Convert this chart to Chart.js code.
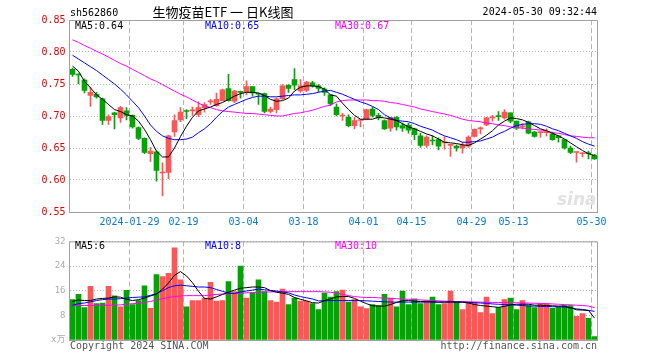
<!DOCTYPE html>
<html>
<head>
<meta charset="utf-8">
<script src="https://cdn.jsdelivr.net/npm/chart.js@4.4.1/dist/chart.umd.min.js"></script>
<style>
  html, body { margin: 0; padding: 0; background: #fff; }
  #wrap { position: relative; width: 660px; height: 360px; }
  #wrap canvas { position: absolute; left: 0; }
  #kline { top: 0; }
  #vol { top: 232px; }
</style>
</head>
<body>
<div id="wrap">
  <canvas id="kline" width="660" height="232"></canvas>
  <canvas id="vol" width="660" height="128"></canvas>
</div>
<script>
// trading days shown on the chart (2024)
const dates = [
  '01-15','01-16','01-17','01-18','01-19','01-22','01-23','01-24','01-25','01-26',
  '01-29','01-30','01-31','02-01','02-02','02-05','02-06','02-07','02-08',
  '02-19','02-20','02-21','02-22','02-23','02-26','02-27','02-28','02-29','03-01',
  '03-04','03-05','03-06','03-07','03-08','03-11','03-12','03-13','03-14','03-15',
  '03-18','03-19','03-20','03-21','03-22','03-25','03-26','03-27','03-28','03-29',
  '04-01','04-02','04-03','04-08','04-09','04-10','04-11','04-12',
  '04-15','04-16','04-17','04-18','04-19','04-22','04-23','04-24','04-25','04-26',
  '04-29','04-30','05-06','05-07','05-08','05-09','05-10',
  '05-13','05-14','05-15','05-16','05-17','05-20','05-21','05-22','05-23','05-24',
  '05-27','05-28','05-29','05-30'
];
const tickDates  = ['01-29','02-19','03-04','03-18','04-01','04-15','04-29','05-13','05-30'];
const tickLabels = ['2024-01-29','02-19','03-04','03-18','04-01','04-15','04-29','05-13','05-30'];

const open = [
  0.773,0.765,0.756,0.732,0.734,0.727,0.693,0.705,0.697,0.708,
  0.701,0.682,0.665,0.641,0.644,0.611,0.612,0.675,0.694,
  0.708,0.708,0.702,0.713,0.722,0.716,0.724,0.743,0.723,0.738,
  0.738,0.746,0.735,0.735,0.707,0.710,0.727,0.748,0.757,0.739,
  0.740,0.752,0.747,0.742,0.733,0.714,0.700,0.698,0.685,0.693,
  0.695,0.711,0.701,0.693,0.681,0.698,0.685,0.686,
  0.680,0.669,0.654,0.662,0.663,0.658,0.654,0.653,0.650,0.653,
  0.668,0.680,0.686,0.697,0.700,0.697,0.705,
  0.692,0.683,0.691,0.675,0.674,0.674,0.672,0.669,0.663,0.650,0.643,0.641,0.642,0.639
];
const close = [
  0.765,0.764,0.740,0.737,0.730,0.693,0.699,0.702,0.713,0.701,
  0.683,0.665,0.643,0.645,0.615,0.612,0.669,0.693,0.706,
  0.707,0.709,0.713,0.718,0.723,0.726,0.741,0.724,0.739,0.737,
  0.746,0.736,0.734,0.707,0.711,0.727,0.747,0.743,0.748,0.747,
  0.753,0.747,0.743,0.737,0.719,0.702,0.701,0.685,0.693,0.693,
  0.710,0.701,0.697,0.680,0.698,0.683,0.681,0.678,
  0.671,0.654,0.667,0.661,0.653,0.658,0.654,0.650,0.654,0.667,
  0.679,0.680,0.697,0.697,0.699,0.706,0.692,
  0.681,0.684,0.673,0.668,0.675,0.675,0.663,0.666,0.650,0.643,0.644,0.642,0.641,0.633
];
const high = [
  0.775,0.766,0.758,0.745,0.737,0.728,0.702,0.706,0.715,0.713,
  0.702,0.683,0.666,0.651,0.645,0.627,0.670,0.702,0.713,
  0.710,0.714,0.722,0.721,0.726,0.736,0.742,0.765,0.740,0.739,
  0.755,0.746,0.736,0.736,0.714,0.728,0.749,0.749,0.774,0.757,
  0.754,0.754,0.749,0.744,0.734,0.719,0.704,0.702,0.698,0.694,
  0.711,0.714,0.704,0.694,0.698,0.699,0.689,0.689,
  0.681,0.673,0.669,0.669,0.666,0.668,0.654,0.655,0.659,0.669,
  0.680,0.683,0.698,0.701,0.707,0.710,0.705,
  0.692,0.688,0.692,0.676,0.675,0.680,0.675,0.669,0.663,0.653,0.644,0.643,0.645,0.640
];
const low = [
  0.762,0.750,0.736,0.715,0.728,0.687,0.687,0.680,0.690,0.694,
  0.681,0.663,0.641,0.629,0.598,0.575,0.602,0.668,0.691,
  0.696,0.701,0.699,0.706,0.718,0.715,0.723,0.723,0.721,0.728,
  0.733,0.731,0.718,0.705,0.705,0.705,0.726,0.737,0.741,0.737,
  0.738,0.745,0.738,0.732,0.716,0.700,0.693,0.683,0.680,0.683,
  0.694,0.698,0.694,0.679,0.676,0.678,0.676,0.673,
  0.663,0.651,0.651,0.655,0.647,0.648,0.637,0.645,0.642,0.651,
  0.667,0.672,0.685,0.692,0.693,0.695,0.689,
  0.679,0.680,0.672,0.667,0.667,0.669,0.662,0.659,0.648,0.641,0.628,0.636,0.633,0.632
];
const ma5 = [
  0.778,0.770,0.754,0.744,0.733,0.726,0.718,0.710,0.707,0.702,
  0.700,0.692,0.679,0.663,0.645,0.636,0.636,0.650,0.668,
  0.684,0.698,0.708,0.711,0.714,0.718,0.721,0.726,0.731,0.735,
  0.737,0.737,0.736,0.732,0.726,0.723,0.724,0.728,0.739,0.745,
  0.747,0.747,0.746,0.742,0.733,0.731,0.720,0.710,0.701,0.695,
  0.695,0.695,0.698,0.697,0.695,0.693,0.688,0.683,
  0.680,0.676,0.672,0.669,0.664,0.659,0.658,0.657,0.655,0.654,
  0.658,0.664,0.670,0.677,0.686,0.692,0.697,
  0.696,0.694,0.690,0.685,0.680,0.677,0.673,0.669,0.664,0.658,0.652,0.646,0.641,0.638
];
const ma10 = [
  0.795,0.789,0.783,0.777,0.771,0.764,0.757,0.750,0.742,0.733,
  0.723,0.713,0.700,0.686,0.676,0.669,0.665,0.663,0.663,
  0.664,0.667,0.674,0.680,0.688,0.698,0.707,0.714,0.718,0.722,
  0.726,0.729,0.731,0.731,0.730,0.730,0.731,0.732,0.733,0.733,
  0.734,0.735,0.737,0.739,0.740,0.737,0.734,0.730,0.726,0.722,
  0.719,0.715,0.710,0.702,0.697,0.693,0.692,0.691,
  0.688,0.684,0.681,0.678,0.673,0.669,0.666,0.663,0.659,0.659,
  0.660,0.661,0.664,0.667,0.672,0.676,0.681,
  0.685,0.687,0.688,0.688,0.687,0.684,0.680,0.677,0.673,0.669,0.665,0.660,0.656,0.653
];
const ma30 = [
  0.819,0.815,0.810,0.806,0.801,0.797,0.792,0.787,0.782,0.778,
  0.773,0.768,0.763,0.758,0.754,0.749,0.744,0.739,0.734,
  0.730,0.725,0.720,0.716,0.713,0.710,0.708,0.707,0.706,0.705,
  0.704,0.704,0.703,0.702,0.701,0.700,0.700,0.702,0.704,0.705,
  0.707,0.709,0.712,0.715,0.717,0.722,0.724,0.725,0.725,0.725,
  0.725,0.724,0.724,0.723,0.721,0.720,0.718,0.716,
  0.714,0.711,0.709,0.707,0.705,0.703,0.701,0.698,0.695,0.693,
  0.692,0.691,0.689,0.688,0.686,0.685,0.683,
  0.682,0.681,0.680,0.679,0.678,0.677,0.674,0.673,0.671,0.669,0.668,0.667,0.666,0.666
];

// volume (unit shown on axis), and its moving averages
const volume = [
  13.1,14.8,10.5,17.4,11.8,12.0,17.4,14.3,10.8,16.1,
  11.5,12.8,17.6,10.3,21.2,20.6,21.6,29.9,19.5,
  10.8,12.8,12.8,13.6,18.7,12.6,12.8,19.0,15.7,24.0,
  13.6,15.2,19.5,15.7,12.8,12.3,16.5,11.5,13.6,12.6,
  12.6,11.8,9.9,15.2,13.9,15.7,16.2,12.3,13.1,10.8,
  10.2,11.5,11.2,14.8,13.6,10.8,15.9,11.5,
  13.4,11.8,12.8,13.9,11.5,11.8,15.9,12.3,9.9,12.3,
  12.3,8.9,13.9,8.6,10.5,13.1,13.6,
  9.9,12.8,11.2,10.5,11.8,11.8,10.3,10.7,11.2,11.2,7.7,8.6,7.0,1.1
];
const volMa5 = [
  12.5,13.0,12.8,12.8,13.3,13.5,13.6,14.0,13.9,13.2,
  12.8,13.1,13.6,14.3,14.9,16.5,18.5,21.0,22.2,
  20.8,18.6,15.8,13.5,13.3,14.0,14.8,15.5,16.2,16.8,
  17.0,17.2,17.2,17.0,16.0,15.5,15.2,14.8,13.8,13.2,
  12.7,12.1,12.0,12.8,13.3,14.0,14.1,14.1,13.5,12.6,
  11.8,11.1,11.0,11.0,11.5,12.2,12.7,12.8,
  12.6,12.5,12.5,12.4,12.3,12.3,12.4,12.3,12.3,12.0,
  11.5,11.2,11.0,10.8,10.6,10.9,11.4,
  11.6,11.6,11.6,11.3,11.3,11.2,11.1,11.0,11.0,10.5,9.8,9.7,9.6,7.1
];
const volMa10 = [
  11.3,11.8,12.0,12.4,12.8,13.1,13.3,13.3,13.4,13.6,
  13.8,13.9,14.0,14.5,15.0,16.0,17.0,17.6,17.8,
  17.6,17.4,17.2,17.2,17.0,16.4,15.8,15.2,15.1,15.6,
  15.9,16.2,16.5,16.3,16.1,15.9,15.6,15.3,14.6,14.1,
  13.7,13.3,12.7,12.7,12.8,12.8,12.8,12.8,12.8,12.8,
  12.7,12.6,12.5,12.4,12.3,12.3,12.3,12.3,
  12.3,12.3,12.3,12.3,12.3,12.3,12.3,12.3,12.3,12.2,
  12.1,12.0,11.9,11.7,11.6,11.5,11.4,
  11.3,11.2,11.0,11.0,10.9,10.9,10.8,10.8,10.7,10.4,10.1,9.9,9.6,9.3
];
const volMa30 = [
  11.2,11.2,11.2,11.2,11.2,11.3,11.3,11.3,11.4,11.6,
  11.8,11.9,12.2,12.5,13.0,13.4,13.8,14.1,14.3,
  14.4,14.4,14.4,14.4,14.6,14.8,14.9,15.0,15.1,15.2,
  15.3,15.4,15.5,15.6,15.6,15.7,15.7,15.7,15.7,15.7,
  15.7,15.7,15.7,15.6,15.5,15.2,14.8,14.4,14.1,13.9,
  13.8,13.8,13.7,13.6,13.5,13.4,13.3,13.2,
  13.1,13.0,12.9,12.8,12.7,12.6,12.6,12.5,12.5,12.4,
  12.3,12.3,12.2,12.2,12.2,12.1,12.1,
  12.1,12.0,12.0,11.9,11.9,11.8,11.7,11.6,11.5,11.4,11.3,11.2,11.0,10.5
];

const RED = '#ff5555';
const GREEN = '#00a600';
const candleColors = dates.map((d, i) => close[i] >= open[i] ? RED : GREEN);

Chart.defaults.font.family = "'DejaVu Sans Mono', 'Noto Sans CJK SC', monospace";
Chart.defaults.font.size = 10;

// frame round the plot and loose texts (titles, legends, footers)
const decor = {
  id: 'decor',
  beforeDatasetsDraw(chart, args, opts) {
    if (!opts.watermark) return;
    const ctx = chart.ctx;
    ctx.save();
    ctx.fillStyle = '#e2e2e2';
    ctx.font = "italic bold 17px 'DejaVu Sans', sans-serif";
    ctx.textAlign = 'right';
    ctx.textBaseline = 'alphabetic';
    ctx.fillText('sina', chart.chartArea.right - 1, 205);
    ctx.restore();
  },
  afterDraw(chart, args, opts) {
    const { ctx, chartArea: a } = chart;
    ctx.save();
    ctx.strokeStyle = '#a0a0a0';
    ctx.lineWidth = 1;
    ctx.strokeRect(a.left, a.top + 0.5, a.right - a.left, a.bottom - a.top);
    ctx.textBaseline = 'middle';
    (opts.texts || []).forEach(t => {
      ctx.font = t.font || "10px 'DejaVu Sans Mono', monospace";
      ctx.fillStyle = t.color || '#000';
      ctx.textAlign = t.align || 'left';
      ctx.fillText(t.text, t.x, t.y);
    });
    ctx.restore();
  }
};

function line(data, color) {
  return { type: 'line', data, borderColor: color, borderWidth: 1, pointRadius: 0, tension: 0, order: 0 };
}

function xScale(showTicks) {
  return {
    type: 'category',
    offset: true,
    grid: {
      offset: true,
      drawTicks: false,
      color: c => tickDates.includes(dates[c.index]) ? '#b4b4b4' : 'rgba(0,0,0,0)'
    },
    border: { display: false, dash: [5, 3] },
    ticks: {
      display: showTicks,
      autoSkip: false,
      minRotation: 0,
      maxRotation: 0,
      padding: 4,
      labelOffset: -3,
      color: '#0a78d2',
      callback: (v, i) => {
        const k = tickDates.indexOf(dates[i]);
        return k >= 0 ? tickLabels[k] : '';
      }
    },
    afterFit: s => { s.height = 20; }
  };
}

new Chart(document.getElementById('kline'), {
  type: 'bar',
  data: {
    labels: dates,
    datasets: [
      line(ma5, '#000000'),
      line(ma10, '#0000ff'),
      line(ma30, '#ff00ff'),
      {
        data: dates.map((d, i) => [open[i], close[i]]),
        backgroundColor: candleColors,
        barThickness: 5, minBarLength: 1, grouped: false, order: 1
      },
      {
        data: dates.map((d, i) => [low[i], high[i]]),
        backgroundColor: candleColors,
        barThickness: 1, grouped: false, order: 2
      }
    ]
  },
  options: {
    responsive: false,
    animation: false,
    events: [],
    layout: { padding: { top: 20, right: 62.5, left: 0, bottom: 0 } },
    plugins: {
      legend: { display: false },
      tooltip: { enabled: false },
      decor: {
        watermark: true,
        texts: [
          { text: 'sh562860', x: 70, y: 13 },
          { text: '生物疫苗ETF 一 日K线图', x: 223, y: 12, align: 'center', font: "13px 'Noto Sans CJK SC', sans-serif" },
          { text: '2024-05-30 09:32:44', x: 597, y: 12.5, align: 'right' },
          { text: 'MA5:0.64', x: 75, y: 26 },
          { text: 'MA10:0.65', x: 205, y: 26, color: '#0000ff' },
          { text: 'MA30:0.67', x: 335, y: 26, color: '#ff00ff' }
        ]
      }
    },
    scales: {
      x: xScale(true),
      y: {
        min: 0.55,
        max: 0.85,
        grid: { color: '#b4b4b4', drawTicks: false },
        border: { display: false, dash: [1, 2] },
        ticks: { stepSize: 0.05, padding: 4, color: '#e00000', callback: v => v.toFixed(2) },
        afterFit: s => { s.width = 69.5; }
      }
    }
  },
  plugins: [decor]
});

new Chart(document.getElementById('vol'), {
  type: 'bar',
  data: {
    labels: dates,
    datasets: [
      line(volMa5, '#000000'),
      line(volMa10, '#0000ff'),
      line(volMa30, '#ff00ff'),
      {
        data: volume,
        backgroundColor: candleColors,
        barThickness: 5, grouped: false, order: 1
      }
    ]
  },
  options: {
    responsive: false,
    animation: false,
    events: [],
    layout: { padding: { top: 8, right: 62.5, left: 0, bottom: 0 } },
    plugins: {
      legend: { display: false },
      tooltip: { enabled: false },
      decor: {
        texts: [
          { text: 'MA5:6', x: 75, y: 14 },
          { text: 'MA10:8', x: 205, y: 14, color: '#0000ff' },
          { text: 'MA30:10', x: 335, y: 14, color: '#ff00ff' },
          { text: 'Copyright 2024 SINA.COM', x: 70, y: 114, color: '#555555' },
          { text: 'http://finance.sina.com.cn', x: 597, y: 114, align: 'right', color: '#555555' }
        ]
      }
    },
    scales: {
      x: xScale(false),
      y: {
        min: 0,
        max: 32,
        grid: { color: '#b4b4b4', drawTicks: false },
        border: { display: false, dash: [1, 2] },
        ticks: {
          stepSize: 8, padding: 4, color: '#aaaaaa',
          font: { size: 9 },
          callback: v => v === 0 ? 'x万' : v
        },
        afterFit: s => { s.width = 69.5; }
      }
    }
  },
  plugins: [decor]
});
</script>
</body>
</html>
